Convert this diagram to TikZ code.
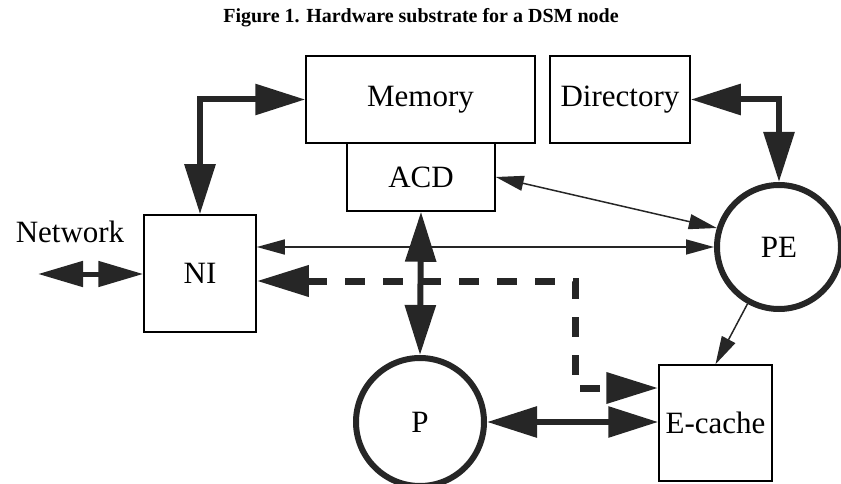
\documentclass[tikz,border=0pt]{standalone}
\usepackage{fontspec}
\setmainfont{Liberation Serif}
\usetikzlibrary{arrows.meta,calc}
\definecolor{inkc}{RGB}{38,38,38}
\begin{document}
\begin{tikzpicture}[x=1pt,y=-1pt,
  lbl/.style={font=\fontsize{31}{37}\selectfont, text=black},
  blk/.style={draw=black, line width=1.5pt, inner sep=0pt, lbl},
  ring/.style={circle, draw=inkc, line width=6pt, inner sep=0pt, lbl},
  bigtip/.style={-{Triangle[length=50pt,width=30pt]}},
  thickarr/.style={draw=inkc, line width=6pt,
     {Triangle[length=50pt,width=30pt]}-{Triangle[length=50pt,width=30pt]}},
  dasharr/.style={draw=inkc, line width=7pt, dash pattern=on 20pt off 18pt,
     {Triangle[length=52pt,width=30pt]}-{Triangle[length=52pt,width=30pt]}},
  thinarr/.style={draw=inkc, line width=1.5pt,
     {Triangle[length=28pt,width=15pt]}-{Triangle[length=28pt,width=15pt]}},
  thinone/.style={draw=inkc, line width=1.5pt, -{Triangle[length=28pt,width=15pt]}},
  netarr/.style={draw=inkc, line width=5pt,
     {Triangle[length=45pt,width=25pt]}-{Triangle[length=45pt,width=25pt]}}
]
\useasboundingbox (0,0) rectangle (841,484);

\node[font=\bfseries\fontsize{20}{24}\selectfont] (title) at (421,18) {Figure 1. Hardware substrate for a DSM node};

\node[blk, minimum width=229pt, minimum height=87pt] (mem) at (420.5,99.5) {Memory};
\node[blk, minimum width=148pt, minimum height=68pt] (acd) at (421,177) {ACD};
\node[blk, minimum width=140pt, minimum height=87pt] (dir) at (620,99.5) {Directory};
\node[blk, minimum width=112pt, minimum height=117pt] (ni) at (200,273.5) {NI};
\node[blk, minimum width=113pt, minimum height=116pt] (ec) at (715.5,423) {E-cache};
\node[ring, minimum size=124pt] (pe) at (779,247) {PE};
\node[ring, minimum size=128pt] (p) at (420,422) {P};

\node[lbl] (net) at (70,232) {Network};
\coordinate (netend) at (38,274);
\coordinate (d1) at (575,281);
\coordinate (d2) at (575,388);

\draw[thickarr] (ni.north) |- (mem.west);
\draw[thickarr] (dir.east) -| (pe.north);
\draw[thickarr] (acd.south) -- (p.north);
\draw[thickarr] (p.east) -- (p.east -| ec.west);
\draw[dasharr] (d1 -| ni.east) -- (d1) -- (d2) -- (d2 -| ec.west);
\draw[thinarr] (acd.east) -- (pe.163);
\draw[thinarr] (pe.west -| ni.east) -- (pe.west);
\draw[thinone] (pe.241) -- (ec.north);
\draw[netarr] (netend) -- (netend -| ni.west);
\end{tikzpicture}
\end{document}
